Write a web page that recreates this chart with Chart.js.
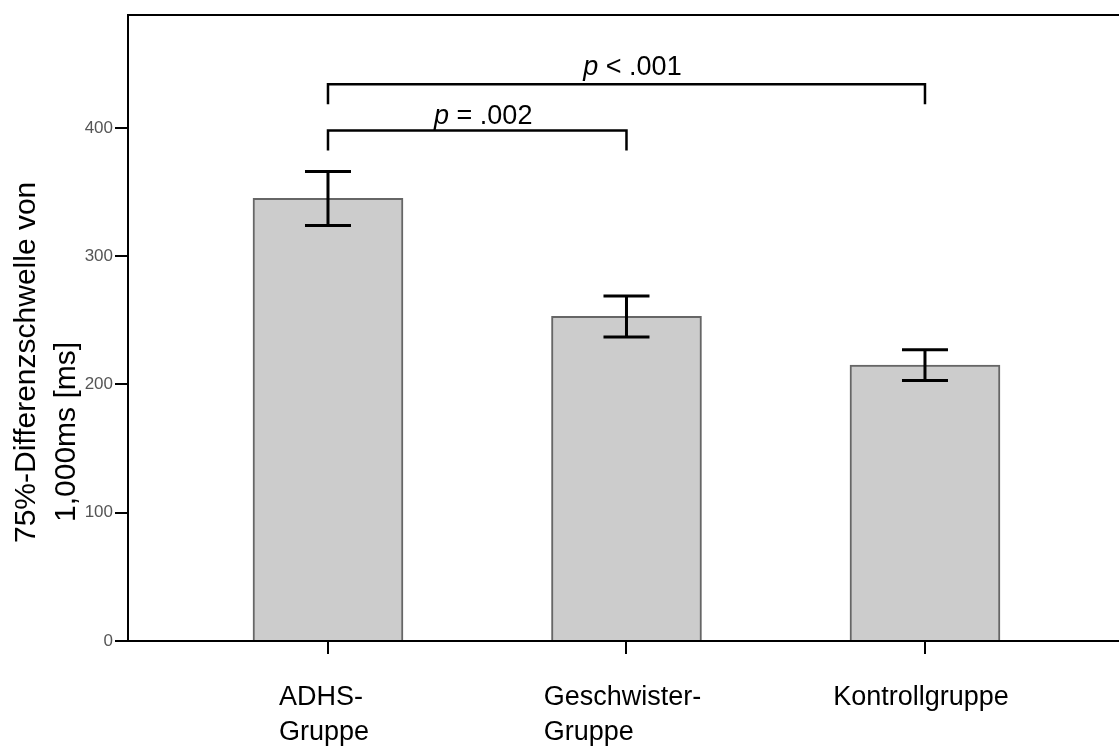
<!DOCTYPE html>
<html>
<head>
<meta charset="utf-8">
<script src="https://cdn.jsdelivr.net/npm/chart.js@4/dist/chart.umd.min.js"></script>
<style>
  html, body { margin: 0; padding: 0; background: #fff; }
  #wrap { width: 1119px; height: 749px; position: relative; }
</style>
</head>
<body>
<div id="wrap"><canvas id="c" width="1119" height="749"></canvas></div>
<script>
// ---- data ----
const categories = [["ADHS-", "Gruppe"], ["Geschwister-", "Gruppe"], ["Kontrollgruppe"]];
const means = [345, 253, 215];
const errPlus = [21, 16, 12];
const errMinus = [21, 16, 12];
const yTicks = [0, 100, 200, 300, 400];
const yTitleLines = ["75%-Differenzschwelle von", "1,000ms [ms]"];
const sigFrom = [0, 0];
const sigTo = [2, 1];
const sigLevel = [434, 398];
const sigP = ["p", "p"];
const sigRest = [" < .001", " = .002"];

const FONT = '"Liberation Sans", Arial, Helvetica, sans-serif';

const overlay = {
  id: 'overlay',
  afterDatasetsDraw(chart) {
    const { ctx, chartArea: a, scales: { x, y } } = chart;
    ctx.save();
    // top frame line
    ctx.strokeStyle = '#000';
    ctx.lineWidth = 2;
    ctx.beginPath();
    ctx.moveTo(a.left - 1, a.top);
    ctx.lineTo(a.right, a.top);
    ctx.stroke();

    // error bars
    ctx.lineWidth = 3;
    ctx.lineCap = 'butt';
    means.forEach((m, i) => {
      const px = x.getPixelForValue(i);
      const t = y.getPixelForValue(m + errPlus[i]);
      const b = y.getPixelForValue(m - errMinus[i]);
      const hw = 23;
      ctx.beginPath();
      ctx.moveTo(px, t); ctx.lineTo(px, b);
      ctx.moveTo(px - hw, t); ctx.lineTo(px + hw, t);
      ctx.moveTo(px - hw, b); ctx.lineTo(px + hw, b);
      ctx.stroke();
    });

    // significance brackets
    ctx.lineWidth = 2.5;
    sigFrom.forEach((f, k) => {
      const x1 = x.getPixelForValue(f);
      const x2 = x.getPixelForValue(sigTo[k]);
      const yy = y.getPixelForValue(sigLevel[k]);
      ctx.beginPath();
      ctx.moveTo(x1, yy + 20); ctx.lineTo(x1, yy); ctx.lineTo(x2, yy); ctx.lineTo(x2, yy + 20);
      ctx.stroke();
      // label
      ctx.fillStyle = '#000';
      ctx.textBaseline = 'alphabetic';
      ctx.font = 'italic 27px ' + FONT;
      const wp = ctx.measureText(sigP[k]).width;
      ctx.font = '27px ' + FONT;
      const wr = ctx.measureText(sigRest[k]).width;
      const cx = (x1 + x2) / 2 + 6;
      const sx = cx - (wp + wr) / 2;
      const by = yy - (k === 0 ? 9 : 6);
      ctx.font = 'italic 27px ' + FONT;
      ctx.textAlign = 'left';
      ctx.fillText(sigP[k], sx, by);
      ctx.font = '27px ' + FONT;
      ctx.fillText(sigRest[k], sx + wp, by);
    });
    ctx.restore();
  },
  afterDraw(chart) {
    const { ctx, chartArea: a, scales: { x } } = chart;
    ctx.save();
    ctx.fillStyle = '#000';
    // x category labels (lines left-aligned, block centred under tick)
    ctx.font = '27px ' + FONT;
    ctx.textAlign = 'left';
    ctx.textBaseline = 'alphabetic';
    categories.forEach((lines, i) => {
      const px = x.getPixelForValue(i);
      const w = Math.max(...lines.map(l => ctx.measureText(l).width));
      const sx = px - w / 2 - 4;
      lines.forEach((l, j) => {
        ctx.fillText(l, sx, a.bottom + 64 + j * 35);
      });
    });
    // y title, rotated
    ctx.font = '30px ' + FONT;
    const starts = [543, 522];
    const bases = [35, 75];
    yTitleLines.forEach((l, j) => {
      ctx.save();
      ctx.translate(bases[j], starts[j]);
      ctx.rotate(-Math.PI / 2);
      ctx.textAlign = 'left';
      ctx.fillText(l, 0, 0);
      ctx.restore();
    });
    ctx.restore();
  }
};

new Chart(document.getElementById('c'), {
  type: 'bar',
  data: {
    datasets: [{
      data: means.map((m, i) => ({ x: i, y: m })),
      backgroundColor: '#cccccc',
      borderColor: '#666666',
      borderWidth: 2,
      barThickness: 150
    }]
  },
  options: {
    responsive: false,
    animation: false,
    layout: { padding: { top: 15, left: 0, right: 0, bottom: 0 } },
    plugins: { legend: { display: false }, tooltip: { enabled: false } },
    scales: {
      x: {
        type: 'linear',
        offset: false,
        min: -0.67,
        max: 2.65,
        afterBuildTicks: s => { s.ticks = categories.map((c, i) => ({ value: i })); },
        afterFit: s => { s.height = 108; },
        ticks: { display: false },
        grid: { offset: false, drawOnChartArea: false, drawTicks: true, tickLength: 13, color: '#000', lineWidth: 2 },
        border: { display: true, color: '#000', width: 2 }
      },
      y: {
        min: 0,
        max: 488,
        afterBuildTicks: s => { s.ticks = yTicks.map(v => ({ value: v })); },
        afterFit: s => { s.width = 128; },
        ticks: { font: { family: FONT, size: 17 }, color: '#555', padding: 2 },
        grid: { drawOnChartArea: false, drawTicks: true, tickLength: 13, color: '#000', lineWidth: 2 },
        border: { display: true, color: '#000', width: 2 }
      }
    }
  },
  plugins: [overlay]
});
</script>
</body>
</html>
